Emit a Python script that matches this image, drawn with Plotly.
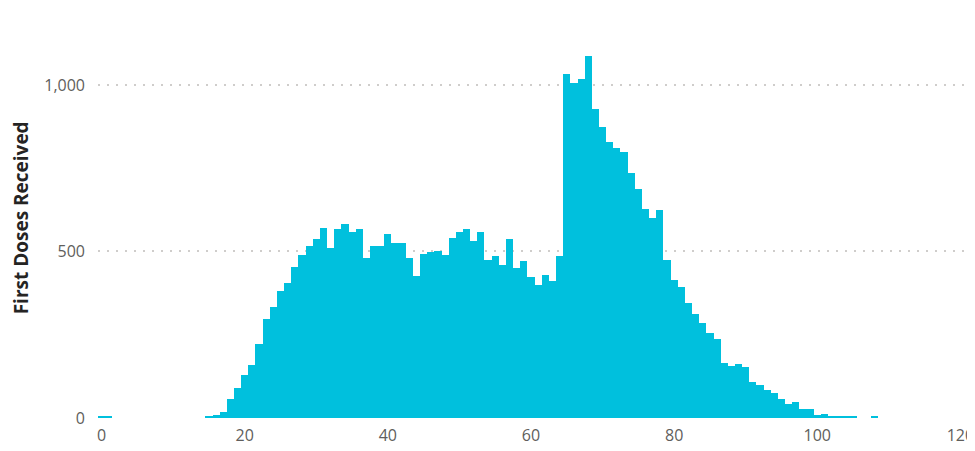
import plotly.graph_objects as go

ages = [0, 1] + list(range(15, 106)) + [108]
doses = [5, 5,
         # 15-24
         5, 10, 18, 58, 90, 130, 160, 222, 297, 333,
         # 25-34
         382, 405, 453, 488, 515, 537, 572, 510, 568, 582,
         # 35-44
         560, 568, 480, 516, 516, 553, 525, 525, 480, 425,
         # 45-54
         492, 498, 501, 490, 540, 557, 568, 532, 557, 473,
         # 55-64
         485, 460, 537, 450, 470, 422, 399, 428, 410, 485,
         # 65-74
         1032, 1005, 1019, 1088, 927, 875, 829, 810, 800, 736,
         # 75-84
         688, 627, 601, 624, 475, 415, 393, 345, 313, 286,
         # 85-94
         255, 237, 166, 155, 162, 154, 109, 99, 83, 75,
         # 95-105
         58, 42, 47, 27, 27, 8, 12, 7, 7, 7, 7,
         # 108
         5]

x_ticks = [0, 20, 40, 60, 80, 100, 120]
y_ticks = [0, 500, 1000]
y_title = "First Doses Received"

fig = go.Figure(go.Bar(
    x=ages, y=doses, width=1,
    marker=dict(color="#00C0DD", line=dict(width=0)),
    hovertemplate="%{x}: %{y}<extra></extra>",
))

fig.update_layout(
    width=967, height=443,
    margin=dict(l=90, r=11, t=27, b=33),
    plot_bgcolor="white", paper_bgcolor="white",
    bargap=0, showlegend=False,
    font=dict(family="Open Sans, Segoe UI, sans-serif", color="#605E5C", size=16),
    annotations=[dict(
        text="<b>" + y_title + "</b>", xref="paper", yref="paper",
        x=-0.0895, y=0.5226, xanchor="center", yanchor="middle",
        textangle=-90, showarrow=False,
        font=dict(size=19, color="#252423"),
    )],
)
fig.update_xaxes(
    range=[-0.5, 120.5], tickvals=x_ticks, showgrid=False, zeroline=False,
    showline=False, ticks="", ticklabelstandoff=6, automargin=False,
    tickfont=dict(size=16, color="#605E5C"),
)
fig.update_yaxes(
    range=[0, 1150], tickvals=y_ticks, tickformat=",",
    showgrid=True, gridcolor="#CFCDCB", griddash="2px,7px", gridwidth=1.5,
    zeroline=False, showline=False, ticks="", ticklabelstandoff=12,
    automargin=False,
    tickfont=dict(size=16, color="#605E5C"),
)

fig.write_html("out.html")
